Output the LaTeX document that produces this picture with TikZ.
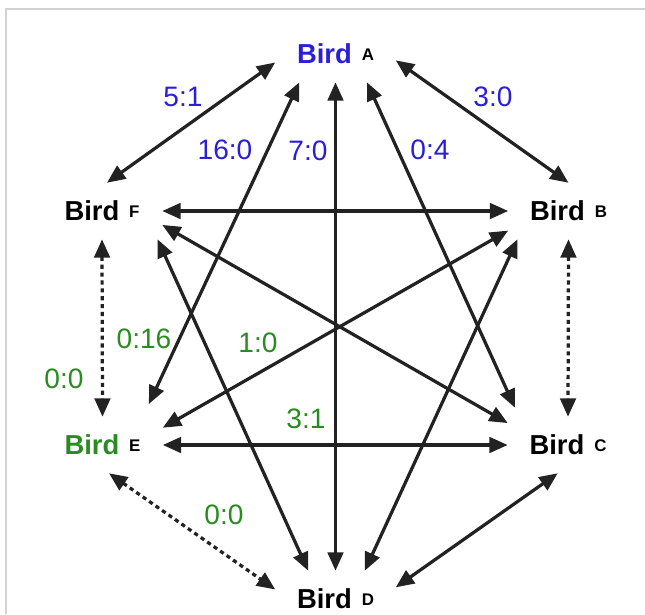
\documentclass[tikz,border=0pt]{standalone}
\usepackage{fontspec}
\setmainfont{Liberation Sans}
\usetikzlibrary{arrows.meta}
\definecolor{teamA}{RGB}{42,30,214}
\definecolor{teamE}{RGB}{40,140,32}
\definecolor{ink}{RGB}{34,34,34}
\newcommand{\birdname}[2][black]{\textcolor{#1}{Bird}\hspace{7pt}\raisebox{2.5pt}{\fontsize{12}{13}\selectfont #2}}

\begin{document}
\begin{tikzpicture}[
  x=0.025cm, y=-0.025cm,
  bird/.style={font=\fontsize{19.5}{22}\selectfont\bfseries, inner sep=0pt, minimum width=3cm, minimum height=1.4cm},
  lblA/.style={font=\fontsize{20}{22}\selectfont, text=teamA, inner sep=0pt},
  lblE/.style={lblA, text=teamE},
  duel/.style={draw=ink, line width=2.3pt, {Triangle[length=13pt,width=11pt]}-{Triangle[length=13pt,width=11pt]}},
  tie/.style={duel, dash pattern=on 3pt off 2.6pt}
]
\useasboundingbox (0,0) rectangle (645,614);
\draw[gray!35, line width=0.8pt] (6,614) -- (6,9) -- (645,9);

% Birds
\node[bird] (A) at (335.5,54) {\birdname[teamA]{A}};
\node[bird] (B) at (568.5,211) {\birdname{B}};
\node[bird] (C) at (568,445) {\birdname{C}};
\node[bird] (D) at (335.5,599) {\birdname{D}};
\node[bird] (E) at (102.5,445) {\birdname[teamE]{E}};
\node[bird] (F) at (102,211) {\birdname{F}};

% A's games
\draw[duel] (A.188) -- (F.80);
\draw[duel] (A.354) -- (B.north);
\draw[duel, shorten >=0.35cm] (A.218) -- (E.35);
\draw[duel] (A.south) -- (D.north);
\draw[duel, shorten >=0.25cm] (A.318) -- (C.150);

% F's games
\draw[duel] (F.east) -- (B.west);
\draw[duel] (F.347) -- (C.160);
\draw[duel] (F.333) -- (D.134);
\draw[tie] (F.south) -- (E.north);

% B's games
\draw[duel] (B.198) -- (E.16);
\draw[duel] (B.209) -- (D.44);
\draw[tie] (B.south) -- (C.north);

% E, C and D
\draw[duel] (E.east) -- (C.west);
\draw[tie] (E.283) -- (D.171);
\draw[duel] (C.250) -- (D.11);

% Scores seen from A
\node[lblA] (sAF) at (183,97) {5:1};
\node[lblA] (sAB) at (493,97) {3:0};
\node[lblA] (sAE) at (225,150) {16:0};
\node[lblA] (sAD) at (308,151) {7:0};
\node[lblA] (sAC) at (430,150) {0:4};

% Scores seen from E
\node[lblE] (sEA) at (144,339) {0:16};
\node[lblE] (sEB) at (258,343) {1:0};
\node[lblE] (sEF) at (64,379) {0:0};
\node[lblE] (sEC) at (306,419) {3:1};
\node[lblE] (sED) at (224,515) {0:0};

\end{tikzpicture}
\end{document}
